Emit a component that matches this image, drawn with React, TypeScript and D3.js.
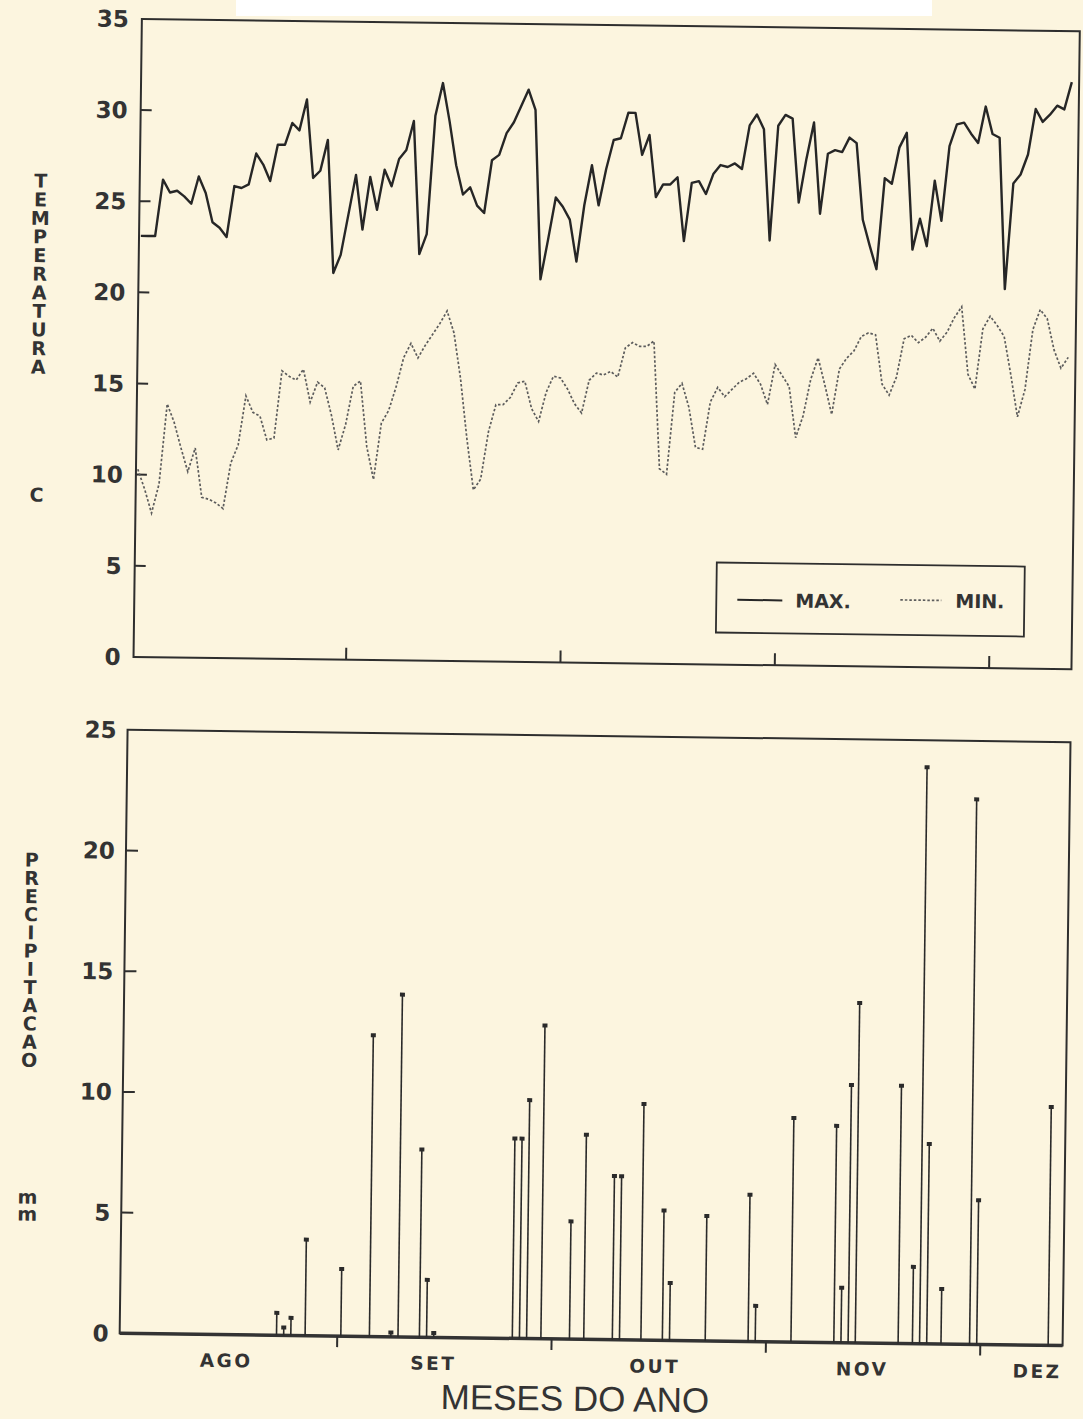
import React from "react";
import * as d3 from "d3";

// daily temperatures, day 1..131 (AGO -> DEZ)
const tMax = [
  23.1, 23.1, 23.1, 26.2, 25.5, 25.6, 25.3, 24.9, 26.4, 25.5,
  23.9, 23.6, 23.1, 25.9, 25.8, 26.0, 27.7, 27.1, 26.2, 28.2,
  28.2, 29.4, 29.0, 30.7, 26.4, 26.8, 28.5, 21.2, 22.2, 24.4,
  26.6, 23.6, 26.5, 24.7, 26.9, 26.0, 27.5, 28.0, 29.6, 22.3,
  23.4, 29.9, 31.7, 29.6, 27.2, 25.6, 26.0, 25.0, 24.6, 27.5,
  27.8, 29.0, 29.6, 30.5, 31.4, 30.3, 21.0, 23.2, 25.5, 25.0,
  24.3, 22.0, 25.1, 27.3, 25.1, 27.1, 28.7, 28.8, 30.2, 30.2,
  27.9, 29.0, 25.6, 26.3, 26.3, 26.7, 23.2, 26.4, 26.5, 25.8,
  26.9, 27.4, 27.3, 27.5, 27.2, 29.6, 30.2, 29.4, 23.3, 29.6,
  30.2, 30.0, 25.4, 27.8, 29.8, 24.8, 28.1, 28.3, 28.2, 29.0,
  28.7, 24.5, 23.1, 21.8, 26.8, 26.5, 28.5, 29.3, 22.9, 24.6,
  23.1, 26.7, 24.5, 28.6, 29.8, 29.9, 29.3, 28.8, 30.8, 29.3,
  29.1, 20.8, 26.6, 27.1, 28.2, 30.7, 30.0, 30.4, 30.9, 30.7,
  32.2,
];

const tMin = [
  10.3, 9.2, 7.9, 9.5, 13.9, 12.9, 11.5, 10.2, 11.5, 8.8,
  8.7, 8.5, 8.2, 10.7, 11.7, 14.4, 13.5, 13.3, 12.0, 12.1,
  15.8, 15.5, 15.3, 15.9, 14.1, 15.2, 14.9, 13.4, 11.5, 12.9,
  15.0, 15.3, 11.7, 9.9, 13.0, 13.7, 15.0, 16.6, 17.4, 16.6,
  17.3, 17.9, 18.5, 19.2, 18.0, 15.5, 12.2, 9.4, 10.0, 12.6,
  14.1, 14.1, 14.5, 15.3, 15.4, 13.9, 13.2, 14.8, 15.7, 15.6,
  15.0, 14.2, 13.7, 15.5, 15.9, 15.8, 16.0, 15.7, 17.3, 17.6,
  17.4, 17.4, 17.7, 10.7, 10.4, 14.9, 15.4, 14.1, 11.9, 11.8,
  14.4, 15.2, 14.7, 15.1, 15.5, 15.7, 16.0, 15.4, 14.3, 16.5,
  15.9, 15.3, 12.5, 13.7, 15.7, 16.9, 15.4, 13.8, 16.3, 16.9,
  17.3, 18.1, 18.3, 18.2, 15.5, 14.9, 15.9, 18.0, 18.2, 17.8,
  18.1, 18.6, 17.9, 18.4, 19.2, 19.8, 16.1, 15.3, 18.6, 19.3,
  18.8, 18.2, 16.1, 13.8, 15.3, 18.6, 19.7, 19.2, 17.5, 16.5,
  17.1,
];

// rainy days only (day number, mm)
const rainDay = [
  22, 23, 24, 26, 31, 35, 38, 39, 42, 43,
  44, 55, 56, 57, 59, 63, 65, 69, 70, 73,
  76, 77, 82, 88, 89, 94, 100, 101, 102, 103,
  109, 111, 112, 113, 115, 119, 120, 130,
];
const rainMm = [
  0.95, 0.35, 0.75, 4.0, 2.8, 12.5, 0.2, 14.2, 7.8, 2.4,
  0.2, 8.3, 8.3, 9.9, 13.0, 4.9, 8.5, 6.8, 6.8, 9.8,
  5.4, 2.4, 5.2, 6.1, 1.5, 9.3, 9.0, 2.3, 10.7, 14.1,
  10.7, 3.2, 23.9, 8.3, 2.3, 22.6, 6.0, 9.9,
];

const tempTicks = [0, 5, 10, 15, 20, 25, 30, 35];
const rainTicks = [0, 5, 10, 15, 20, 25];
const monthTickDays = [30.5, 60.5, 90.5, 120.5];
const monthNames = ["AGO", "SET", "OUT", "NOV", "DEZ"];
const monthLabelDays = [15, 44, 75, 104, 128.5];

const W = 1083;
const H = 1419;
const ink = "#2e2e2e";
const font = "DejaVu Sans, Verdana, sans-serif";

// upright letters stacked top to bottom, one text element
function Stacked({ text, x, y, spacing }: { text: string; x: number; y: number; spacing: number }) {
  return (
    <text
      x={x}
      y={y}
      fontFamily={font}
      fontWeight="bold"
      fontSize={19}
      fill="#333"
      letterSpacing={spacing}
      style={{ writingMode: "vertical-rl", textOrientation: "upright" } as any}
    >
      {text}
    </text>
  );
}

export default function App() {
  const x = d3.scaleLinear().domain([1, 131]).range([134.8, 1063.7]);
  const yT = d3.scaleLinear().domain([0, 35]).range([663, 25]);
  const yP = d3.scaleLinear().domain([0, 25]).range([1339.5, 736]);

  const top = { left: 133, right: 1071, top: yT(35), bottom: yT(0) };
  const bot = { left: 128, right: 1071, top: yP(25), bottom: yP(0) };

  const line = d3
    .line<number>()
    .x((_, i) => x(i + 1))
    .y((d) => yT(d));

  return (
    <svg
      width={W}
      height={H}
      style={{ position: "absolute", left: 0, top: 0, display: "block" }}
    >
      <rect x={0} y={0} width={W} height={H} fill="#fcf5df" />
      <rect x={236} y={0} width={696} height={16} fill="#ffffff" />

      <g transform="rotate(0.75 600 700)">
        {/* ---------- temperature panel ---------- */}
        <rect
          x={top.left}
          y={top.top}
          width={top.right - top.left}
          height={top.bottom - top.top}
          fill="none"
          stroke={ink}
          strokeWidth={2}
        />
        {tempTicks.map((t) => (
          <g key={"tt" + t}>
            {t > 0 && t < 35 && (
              <line x1={top.left} x2={top.left + 11} y1={yT(t)} y2={yT(t)} stroke={ink} strokeWidth={2} />
            )}
            <text
              x={top.left - 13}
              y={yT(t)}
              dy="0.36em"
              textAnchor="end"
              fontFamily={font}
              fontWeight="bold"
              fontSize={23}
              fill="#333"
            >
              {t}
            </text>
          </g>
        ))}
        {monthTickDays.map((d) => (
          <line key={"mt" + d} x1={x(d)} x2={x(d)} y1={top.bottom} y2={top.bottom - 12} stroke={ink} strokeWidth={2} />
        ))}

        <path d={line(tMin) || ""} fill="none" stroke="#5c5c5c" strokeWidth={1.7} strokeDasharray="2.5 2" />
        <path d={line(tMax) || ""} fill="none" stroke="#262626" strokeWidth={2.4} strokeLinejoin="round" />

        {/* legend */}
        <rect x={715} y={561} width={308} height={70} fill="#fcf5df" stroke={ink} strokeWidth={1.8} />
        <line x1={736} x2={781} y1={598} y2={598} stroke="#262626" strokeWidth={2} />
        <text x={794} y={605} fontFamily={font} fontWeight="bold" fontSize={19} fill="#333">
          MAX.
        </text>
        <line x1={899} x2={940} y1={596} y2={596} stroke="#5c5c5c" strokeWidth={1.7} strokeDasharray="2.5 2" />
        <text x={954} y={603} fontFamily={font} fontWeight="bold" fontSize={19} fill="#333">
          MIN.
        </text>

        <Stacked text="TEMPERATURA" x={34} y={177} spacing={-3.4} />
        <Stacked text="C" x={34} y={491} spacing={0} />

        {/* ---------- precipitation panel ---------- */}
        <rect
          x={bot.left}
          y={bot.top}
          width={bot.right - bot.left}
          height={bot.bottom - bot.top}
          fill="none"
          stroke={ink}
          strokeWidth={2}
        />
        <line x1={bot.left} x2={bot.right} y1={yP(0)} y2={yP(0)} stroke="#333" strokeWidth={3.5} />
        {rainTicks.map((t) => (
          <g key={"rt" + t}>
            {t > 0 && t < 25 && (
              <line x1={bot.left} x2={bot.left + 12} y1={yP(t)} y2={yP(t)} stroke={ink} strokeWidth={2} />
            )}
            <text
              x={bot.left - 11}
              y={yP(t)}
              dy="0.36em"
              textAnchor="end"
              fontFamily={font}
              fontWeight="bold"
              fontSize={23}
              fill="#333"
            >
              {t}
            </text>
          </g>
        ))}
        {monthTickDays.map((d) => (
          <line key={"bt" + d} x1={x(d)} x2={x(d)} y1={bot.bottom} y2={bot.bottom + 11} stroke={ink} strokeWidth={2} />
        ))}
        {rainDay.map((d, i) => (
          <g key={"r" + d}>
            <line x1={x(d)} x2={x(d)} y1={yP(0)} y2={yP(rainMm[i])} stroke="#2a2a2a" strokeWidth={1.6} />
            <rect x={x(d) - 2.5} y={yP(rainMm[i]) - 1.5} width={5} height={4} fill="#2a2a2a" />
          </g>
        ))}

        {monthNames.map((m, i) => (
          <text
            key={m}
            x={x(monthLabelDays[i])}
            y={1372}
            textAnchor="middle"
            fontFamily={font}
            fontWeight="bold"
            fontSize={18.5}
            letterSpacing={2.5}
            fill="#333"
          >
            {m}
          </text>
        ))}
        <text x={584} y={1411} textAnchor="middle" fontFamily="Liberation Sans, Arial, sans-serif" fontSize={35} fill="#333">
          MESES DO ANO
        </text>

        <Stacked text="PRECIPITACAO" x={34} y={856} spacing={-3.8} />
        <Stacked text="mm" x={34} y={1193} spacing={-5} />
      </g>
    </svg>
  );
}
